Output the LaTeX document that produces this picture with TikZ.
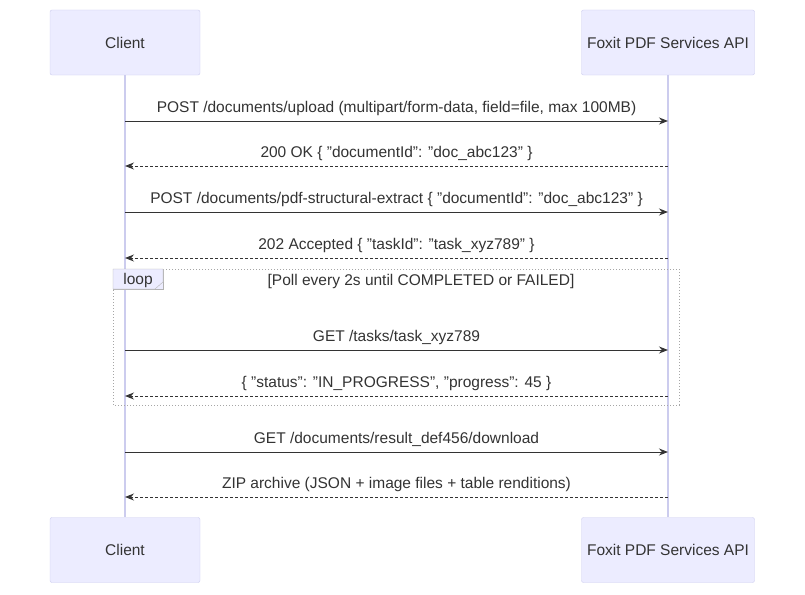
\documentclass[tikz,border=0pt]{standalone}
\usepackage{fontspec}
\setmainfont{Liberation Sans}
\usetikzlibrary{arrows.meta}
\definecolor{actfill}{HTML}{ECECFF}
\definecolor{actline}{HTML}{CCCCEE}
\definecolor{txt}{HTML}{333333}
\begin{document}
\begin{tikzpicture}[x=1pt,y=-1pt,
  every node/.style={font=\fontsize{15.5}{18}\selectfont,text=txt},
  actor/.style={draw=actline,fill=actfill,rounded corners=2pt,minimum height=65pt,inner sep=0pt},
  life/.style={draw=actline,line width=1.5pt},
  msg/.style={draw=txt,line width=1pt,-{Stealth[length=9pt,width=7pt]}},
  ret/.style={msg,dash pattern=on 3pt off 2pt},
  lbl/.style={above=4pt,inner sep=1pt}]
\useasboundingbox (0,0) rectangle (805,594);
\node[actor,minimum width=150pt] (c1) at (125,42.5) {Client};
\node[actor,minimum width=173pt] (f1) at (668,42.5) {Foxit PDF Services API};
\node[actor,minimum width=150pt] (c2) at (125,550) {Client};
\node[actor,minimum width=173pt] (f2) at (668,550) {Foxit PDF Services API};
\draw[life] (c1.south) -- (c2.north);
\draw[life] (f1.south) -- (f2.north);
% loop
\draw[draw=gray!70,dotted,line width=1pt] (113,269) rectangle (679,405);
\node[draw=gray!60,fill=actfill,inner sep=0pt,minimum width=50pt,minimum height=20pt] (lp) at (138,279) {};
\draw[draw=gray!60,fill=actfill] (113,269) -- (163,269) -- (163,282) -- (155,289) -- (113,289) -- cycle;
\node at (138,280) {loop};
\node (cond) at (421,281) {[Poll every 2s until COMPLETED or FAILED]};
% messages
\foreach \y/\s/\t in {121/msg/{POST /documents/upload (multipart/form-data, field=file, max 100MB)},
  212/msg/{POST /documents/pdf-structural-extract \{ "documentId": "doc\_abc123" \}},
  350/msg/{GET /tasks/task\_xyz789},
  452/msg/{GET /documents/result\_def456/download}}{
  \coordinate (a) at (125,\y); \coordinate (b) at (668,\y);
  \draw[\s] (a) -- (b) node[midway,lbl] {\t};
}
\foreach \y/\t in {166/{200 OK \{ "documentId": "doc\_abc123" \}},
  258/{202 Accepted \{ "taskId": "task\_xyz789" \}},
  396/{\{ "status": "IN\_PROGRESS", "progress": 45 \}},
  497/{ZIP archive (JSON + image files + table renditions)}}{
  \coordinate (a) at (668,\y); \coordinate (b) at (125,\y);
  \draw[ret] (a) -- (b) node[midway,lbl] {\t};
}
\end{tikzpicture}
\end{document}
